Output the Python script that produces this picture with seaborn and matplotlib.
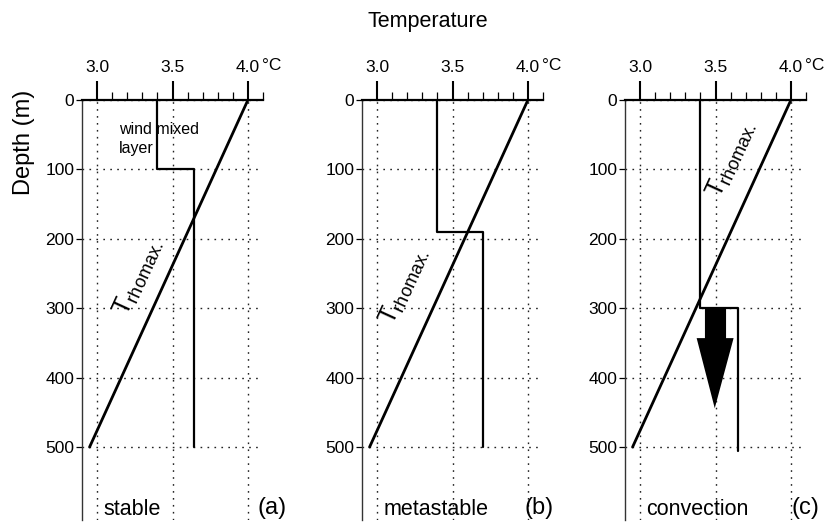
import numpy as np
import pandas as pd
import matplotlib
matplotlib.use("Agg")
import matplotlib.pyplot as plt
import seaborn as sns

# ---- data -------------------------------------------------------------
# temperature of maximum density versus depth
rhomax_temp = [4.0, 2.95]
rhomax_depth = [0, 500]

# temperature profiles for the three cases
temp_a = [3.4, 3.4, 3.64, 3.64]
depth_a = [0, 100, 100, 500]
temp_b = [3.4, 3.4, 3.70, 3.70]
depth_b = [0, 190, 190, 500]
temp_c = [3.4, 3.4, 3.65, 3.65]
depth_c = [0, 300, 300, 505]

# sinking-water arrow in panel (c)
arrow_temp = [3.43, 3.57, 3.57, 3.62, 3.495, 3.375, 3.43]
arrow_depth = [300, 300, 343, 343, 444, 343, 343]

case_names = ["stable", "metastable", "convection"]
panel_tags = ["(a)", "(b)", "(c)"]
temp_ticks = [3.0, 3.5, 4.0]
temp_ticklabels = ["3.0", "3.5", "4.0"]
depth_ticks = [0, 100, 200, 300, 400, 500]

# ---- style ------------------------------------------------------------
sns.set_style("white")
plt.rcParams["font.family"] = ["Liberation Sans", "DejaVu Sans"]
plt.rcParams["mathtext.fontset"] = "custom"
plt.rcParams["mathtext.rm"] = "Liberation Sans"
for key in ["text.color", "axes.labelcolor", "xtick.color", "ytick.color"]:
    plt.rcParams[key] = "black"

fig = plt.figure(figsize=(8.36, 5.23), dpi=100)
W, H = 836.0, 523.0
lefts = [82, 362, 625]
ax_w = 181
top_px, bot_px = 100, 520

profiles = [(temp_a, depth_a), (temp_b, depth_b), (temp_c, depth_c)]
label_anchor = [(3.20, 313), (3.11, 326), (3.535, 143)]
tag_x = [4.066, 3.98, 4.007]

dot = (0, (1.2, 3.8))

for i in range(3):
    ax = fig.add_axes([lefts[i] / W, 1 - bot_px / H, ax_w / W, (bot_px - top_px) / H])
    ax.set_xlim(2.9, 4.1)
    ax.set_ylim(605, 0)

    rho_df = pd.DataFrame({"temp": rhomax_temp, "depth": rhomax_depth})
    sns.lineplot(data=rho_df, x="temp", y="depth", sort=False, estimator=None,
                 color="black", lw=2.0, ax=ax, zorder=4)
    t, d = profiles[i]
    prof_df = pd.DataFrame({"temp": t, "depth": d})
    sns.lineplot(data=prof_df, x="temp", y="depth", sort=False, estimator=None,
                 color="black", lw=1.6, ax=ax, zorder=4)

    if i == 2:
        ax.fill(arrow_temp, arrow_depth, color="black", zorder=5, lw=0)

    # axes frame: top temperature axis, left depth axis
    ax.xaxis.tick_top()
    ax.xaxis.set_label_position("top")
    ax.set_xticks(temp_ticks)
    ax.set_xticklabels(temp_ticklabels)
    ax.set_xticks(np.arange(3.1, 4.15, 0.1), minor=True)
    ax.set_yticks(depth_ticks)
    ax.set_yticklabels([str(v) for v in depth_ticks])
    ax.tick_params(axis="x", which="major", direction="out", length=14, width=1.5,
                   pad=4, labelsize=12.5, color="black", labelcolor="black")
    ax.tick_params(axis="x", which="minor", direction="out", length=5.5, width=0.9,
                   color="black")
    ax.tick_params(axis="y", which="major", direction="out", length=4, width=0.9,
                   pad=1.5, labelsize=12.5, left=True, color="black",
                   labelcolor="black")
    for s in ["right", "bottom"]:
        ax.spines[s].set_visible(False)
    ax.spines["top"].set_linewidth(1.6)
    ax.spines["top"].set_color("black")
    ax.spines["left"].set_linewidth(1.0)
    ax.spines["left"].set_color("#333333")
    ax.set_xlabel("")
    ax.set_ylabel("")

    ax.grid(True, which="major", color="#222222", lw=1.0, linestyle=dot)
    ax.set_axisbelow(True)

    # degree sign after the last tick label
    ax.text(4.095, 1.081, "°C", transform=ax.get_xaxis_transform(),
            ha="left", va="center", fontsize=12.5)

    # T_rhomax label along the line
    angle = np.degrees(np.arctan2(347, 159))
    ax.text(label_anchor[i][0], label_anchor[i][1], r"$\mathregular{T_{rhomax.}}$",
            rotation=angle, rotation_mode="anchor", ha="left", va="baseline",
            fontsize=18.5, zorder=6)

    ax.text(3.04, 590, case_names[i], ha="left", va="center", fontsize=15.5)
    ax.text(tag_x[i], 588, panel_tags[i], ha="left", va="center", fontsize=17)

    if i == 0:
        ax.text(3.145, 56, "wind mixed\nlayer", ha="left", va="center",
                fontsize=11.5, linespacing=1.3)

fig.text(428 / W, 1 - 22 / H, "Temperature", ha="center", va="center", fontsize=15.5)
fig.text(24 / W, 1 - 142 / H, "Depth (m)", rotation=90, ha="center", va="center",
         fontsize=17)

fig.savefig("out.png", dpi=100)
